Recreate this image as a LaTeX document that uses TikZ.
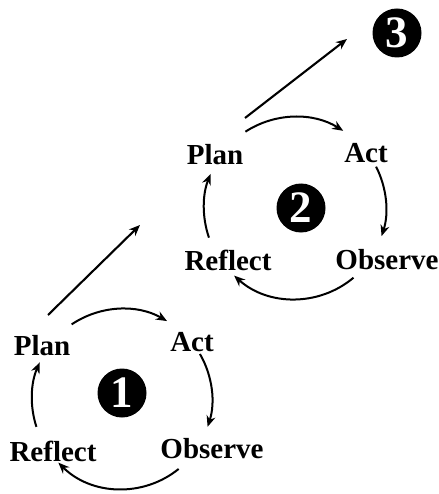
\documentclass[tikz,border=0pt]{standalone}
\usepackage{fontspec}
\setmainfont{Liberation Serif}
\usetikzlibrary{arrows.meta, calc}

\begin{document}
\begin{tikzpicture}[
    x=1pt, y=1pt,
    >={Stealth[length=11pt, width=9pt]},
    % --- Styles ---
    stage_label/.style={font=\fontsize{29}{32}\selectfont\bfseries, inner sep=1pt},
    phase_mark/.style={circle, fill=black, text=white, minimum size=49pt, inner sep=0pt,
        font=\fontsize{45}{45}\selectfont\bfseries},
    cycle_arrow/.style={->, line width=2pt, color=black},
    lead_arrow/.style={->, line width=2.1pt, color=black},
]
    \useasboundingbox (0,0) rectangle (438,-494);

    % ==========================
    % 1. FIRST CYCLE (bottom left)
    % ==========================
    \node[stage_label] (plan1) at (42,-346) {Plan};
    \node[stage_label] (act1) at (192,-342) {Act};
    \node[stage_label] (observe1) at (212,-449) {Observe};
    \node[stage_label] (reflect1) at (53,-451) {Reflect};
    \node[phase_mark] (num1) at (122,-393) {1};
    \coordinate (ring1) at (122,-399);

    \draw[cycle_arrow] ($(ring1)+(124:90)$) arc[start angle=124, end angle=60, radius=90];
    \draw[cycle_arrow] ($(ring1)+(30:90)$) arc[start angle=30, end angle=-18, radius=90];
    \draw[cycle_arrow] ($(ring1)+(-51:90)$) arc[start angle=-51, end angle=-135, radius=90];
    \draw[cycle_arrow] ($(ring1)+(198:90)$) arc[start angle=198, end angle=156, radius=90];

    % Step up to the second cycle
    \coordinate (rise1) at (140,-225);
    \draw[lead_arrow] ($(plan1)+(6,31)$) -- (rise1);

    % ==========================
    % 2. SECOND CYCLE (middle)
    % ==========================
    \node[stage_label] (plan2) at (215,-155) {Plan};
    \node[stage_label] (act2) at (366,-153) {Act};
    \node[stage_label] (observe2) at (387,-260) {Observe};
    \node[stage_label] (reflect2) at (228,-260) {Reflect};
    \node[phase_mark] (num2) at (301,-208) {2};
    \coordinate (ring2) at (295,-208);

    \draw[cycle_arrow] ($(ring2)+(123:91)$) arc[start angle=123, end angle=58, radius=91];
    \draw[cycle_arrow] ($(ring2)+(27:91)$) arc[start angle=27, end angle=-18, radius=91];
    \draw[cycle_arrow] ($(ring2)+(-50:91)$) arc[start angle=-50, end angle=-132, radius=91];
    \draw[cycle_arrow] ($(ring2)+(199:91)$) arc[start angle=199, end angle=158, radius=91];

    % ==========================
    % 3. NEXT CYCLE (top right)
    % ==========================
    \node[phase_mark] (num3) at (397,-33) {3};
    \draw[lead_arrow] ($(plan2)+(30,37)$) -- ($(num3)+(-50,-6)$);

\end{tikzpicture}
\end{document}
